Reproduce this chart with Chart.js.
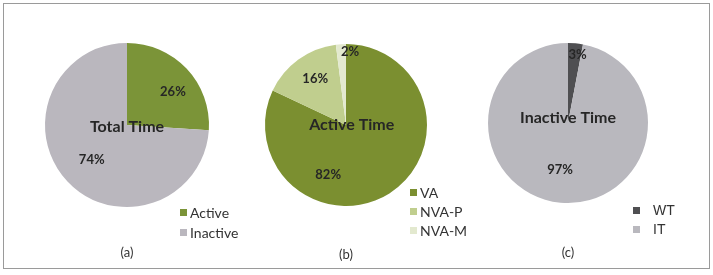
<!DOCTYPE html>
<html>
<head>
<meta charset="utf-8">
<script src="https://cdn.jsdelivr.net/npm/chart.js@4"></script>
<style>
  html, body { margin: 0; padding: 0; background: #fff; }
  #wrap { position: relative; width: 713px; height: 275px; }
  #frame { position: absolute; left: 3px; top: 3px; width: 705px; height: 264px; border: 1px solid #9a9a9a; }
  canvas { position: absolute; left: 0; top: 0; }
</style>
</head>
<body>
<div id="wrap">
  <div id="frame"></div>
  <canvas id="pieA" width="713" height="275"></canvas>
  <canvas id="pieB" width="713" height="275"></canvas>
  <canvas id="pieC" width="713" height="275"></canvas>
</div>
<script>
// data
const totalLabels = ['Active', 'Inactive'];
const totalValues = [26, 74];
const activeLabels = ['VA', 'NVA-P', 'NVA-M'];
const activeValues = [82, 16, 2];
const inactiveLabels = ['WT', 'IT'];
const inactiveValues = [3, 97];

const W = 713, H = 275;

// labels on the pies, legend and caption, drawn by hand
const piePlugin = {
    id: 'pieText',
    afterDraw(chart, args, opts) {
        const ctx = chart.ctx;
        const arc = chart.getDatasetMeta(0).data[0];
        const cx = arc.x, cy = arc.y, R = arc.outerRadius;
        const ds = chart.data.datasets[0];
        ctx.save();
        ctx.textAlign = 'center';
        ctx.textBaseline = 'middle';
        ctx.fillStyle = '#262626';
        ctx.font = 'bold 13px Lato';
        ds.data.forEach((v, i) => {
            const p = opts.labelAt[i];
            ctx.fillText(v + '%', cx + p[0] * R, cy + p[1] * R);
        });
        ctx.font = 'bold 16px Lato';
        ctx.fillText(opts.title, cx + opts.titleAt[0] * R, cy + opts.titleAt[1] * R);

        // legend
        ctx.textAlign = 'left';
        ctx.font = opts.legendFont;
        chart.data.labels.forEach((lab, i) => {
            const y = opts.legendY + i * opts.legendGap;
            ctx.fillStyle = ds.backgroundColor[i];
            ctx.fillRect(opts.legendX, y - 4, 7, 7);
            ctx.fillStyle = '#333';
            ctx.fillText(lab, opts.legendX + opts.legendTextGap, y);
        });

        // caption
        ctx.textAlign = 'center';
        ctx.font = '13px Lato';
        ctx.fillStyle = '#333';
        ctx.fillText(opts.caption, cx, opts.captionY);
        ctx.restore();
    }
};

function makePie(id, labels, values, colors, cx, cy, R, text) {
    new Chart(document.getElementById(id), {
        type: 'pie',
        data: {
            labels: labels,
            datasets: [{
                data: values,
                backgroundColor: colors,
                borderWidth: 0
            }]
        },
        options: {
            responsive: false,
            animation: false,
            layout: {
                padding: { left: cx - R, right: W - cx - R, top: cy - R, bottom: H - cy - R }
            },
            plugins: {
                legend: { display: false },
                tooltip: { enabled: false },
                pieText: text
            }
        },
        plugins: [piePlugin]
    });
}

// (a) Total Time
makePie('pieA', totalLabels, totalValues, ['#7b9438', '#bab7be'], 127, 125, 82, {
    title: 'Total Time', titleAt: [0, 0.02],
    labelAt: [[0.56, -0.40], [-0.43, 0.43]],
    legendX: 180, legendY: 213, legendGap: 20, legendTextGap: 10,
    legendFont: '14px Lato', caption: '(a)', captionY: 253
});

// (b) Active Time
makePie('pieB', activeLabels, activeValues, ['#7b8f30', '#c0ce8e', '#e3e9cf'], 346, 125, 81, {
    title: 'Active Time', titleAt: [0.07, 0],
    labelAt: [[-0.22, 0.62], [-0.38, -0.57], [0.05, -0.9]],
    legendX: 410, legendY: 193, legendGap: 19, legendTextGap: 10,
    legendFont: '14px Lato', caption: '(b)', captionY: 255
});

// (c) Inactive Time
makePie('pieC', inactiveLabels, inactiveValues, ['#4f4f52', '#b9b8be'], 568, 123, 80, {
    title: 'Inactive Time', titleAt: [0, -0.07],
    labelAt: [[0.12, -0.85], [-0.1, 0.58]],
    legendX: 633, legendY: 211, legendGap: 19, legendTextGap: 20,
    legendFont: '14px "Liberation Sans"', caption: '(c)', captionY: 253
});
</script>
</body>
</html>
